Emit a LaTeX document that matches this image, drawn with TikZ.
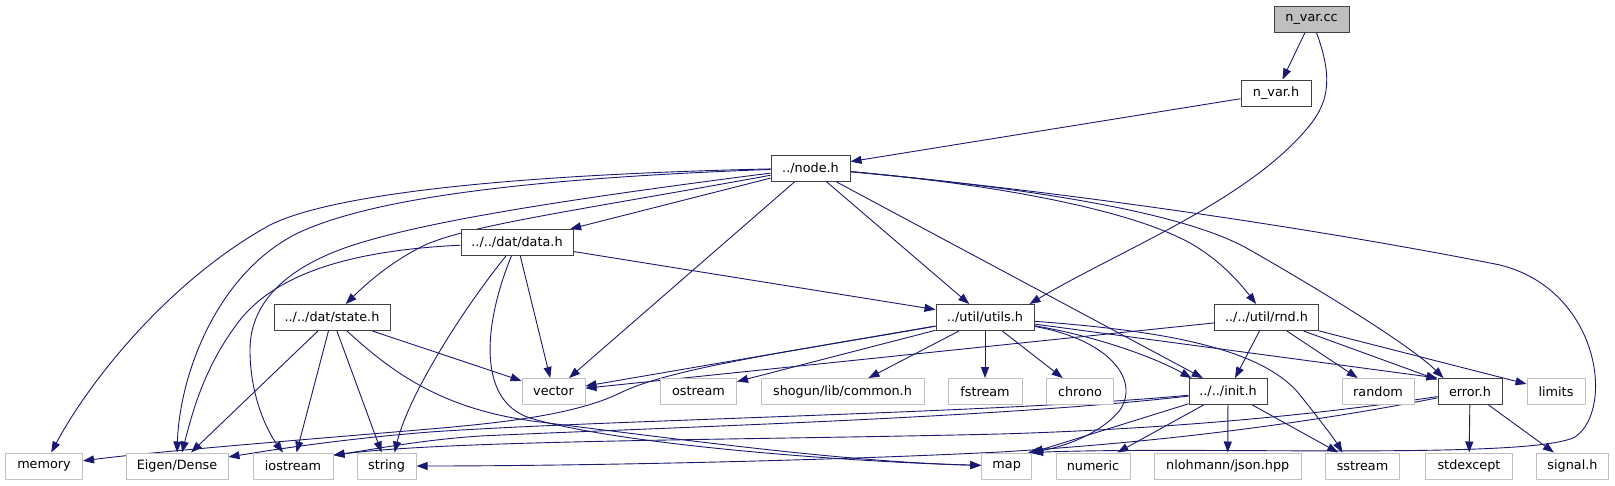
\documentclass[tikz,border=0pt]{standalone}
\usepackage{fontspec}
\setmainfont{DejaVu Sans}
\usetikzlibrary{arrows.meta,backgrounds}
\definecolor{edgeblue}{HTML}{191970}
\definecolor{sysgray}{HTML}{BFBFBF}
\tikzset{
  box/.style={rectangle, inner sep=0pt, minimum height=26pt, font=\fontsize{12.8}{15}\selectfont, fill=white},
  hdr/.style={box, draw=black!75, line width=1pt},
  sys/.style={box, draw=sysgray, line width=1pt},
  edge/.style={draw=edgeblue, line width=0.9pt, -{Triangle[length=11pt,width=8pt]}}
}
\begin{document}
\begin{tikzpicture}[x=1pt,y=-1pt]
\useasboundingbox (0,0) rectangle (1615,485);
% nodes
\node[hdr, fill=sysgray, minimum width=75pt] (nvarcc) at (1311.5,19) {n\_var.cc};
\node[hdr, minimum width=70pt] (nvarh) at (1276,93) {n\_var.h};
\node[hdr, minimum width=79pt] (nodeh) at (810.5,168) {../node.h};
\node[hdr, minimum width=112pt] (data) at (517,242.5) {../../dat/data.h};
\node[hdr, minimum width=116pt] (state) at (332,317.5) {../../dat/state.h};
\node[hdr, minimum width=98pt] (utils) at (985,317.5) {../util/utils.h};
\node[hdr, minimum width=104pt] (rnd) at (1266.5,317.5) {../../util/rnd.h};
% row 2
\node[sys, minimum width=63pt] (vector) at (553.5,391.5) {vector};
\node[sys, minimum width=76pt] (ostream) at (698.5,391.5) {ostream};
\node[sys, minimum width=163pt] (shogun) at (842.5,391.5) {shogun/lib/common.h};
\node[sys, minimum width=74pt] (fstream) at (985,391.5) {fstream};
\node[sys, minimum width=67pt] (chrono) at (1080,391.5) {chrono};
\node[hdr, minimum width=78pt] (init) at (1228,391.5) {../../init.h};
\node[sys, minimum width=72pt] (random) at (1378,391.5) {random};
\node[hdr, minimum width=64pt] (error) at (1470,391.5) {error.h};
\node[sys, minimum width=58pt] (limits) at (1556,391.5) {limits};
% row 3
\node[sys, minimum width=77pt] (memory) at (44,466) {memory};
\node[sys, minimum width=102pt] (Eigen) at (177,466) {Eigen/Dense};
\node[sys, minimum width=80pt] (iostream) at (293,466) {iostream};
\node[sys, minimum width=59pt] (string) at (386.5,466) {string};
\node[sys, minimum width=50pt] (map) at (1006.7,466) {map};
\node[sys, minimum width=74pt] (numeric) at (1093,466) {numeric};
\node[sys, minimum width=147pt] (json) at (1227.7,466) {nlohmann/json.hpp};
\node[sys, minimum width=74pt] (sstream) at (1362.5,466) {sstream};
\node[sys, minimum width=87pt] (stdexcept) at (1469,466) {stdexcept};
\node[sys, minimum width=72pt] (signal) at (1572.5,466) {signal.h};

\begin{scope}[on background layer]
% n_var.cc
\draw[edge] (nvarcc) -- (nvarh);
\draw[edge] (nvarcc) .. controls (1332,75) and (1330,100) .. (1310,125) .. controls (1250,200) and (1120,250) .. ([xshift=-5pt]utils.north east);
\draw[edge] (nvarh) -- (nodeh);
% node.h
\draw[edge] (nodeh) .. controls (500,175) and (330,195) .. (270,225) .. controls (170,280) and (90,380) .. (memory);
\draw[edge] (nodeh) .. controls (480,180) and (360,205) .. (300,232) .. controls (220,270) and (180,370) .. (Eigen.north);
\draw[edge] (nodeh) .. controls (560,200) and (440,220) .. (370,240) .. controls (290,262) and (250,300) .. (250,350) .. controls (250,400) and (270,435) .. (iostream);
\draw[edge] (nodeh) .. controls (580,210) and (470,225) .. (425,245) .. controls (390,262) and (365,285) .. (state);
\draw[edge] (nodeh) -- (data);
\draw[edge] (nodeh) -- (vector);
\draw[edge] (nodeh) -- (utils);
\draw[edge] (nodeh) -- (init);
\draw[edge] (nodeh) .. controls (1000,185) and (1130,210) .. (1190,243) .. controls (1220,260) and (1240,283) .. (rnd);
\draw[edge] (nodeh) .. controls (1050,190) and (1190,215) .. (1250,250) .. controls (1320,290) and (1410,345) .. ([xshift=6pt]error.north west);
\draw[edge] (nodeh) .. controls (1100,195) and (1350,235) .. (1500,265) .. controls (1600,290) and (1615,410) .. (1575,437) .. controls (1530,460) and (1200,446) .. (map.north east);
% data.h
\draw[edge] (data) .. controls (360,250) and (280,270) .. (240,320) .. controls (205,365) and (193,410) .. ([xshift=5pt]Eigen.north);
\draw[edge] (data) .. controls (470,300) and (410,390) .. ([xshift=8pt]string.north);
\draw[edge] (data) .. controls (485,320) and (475,400) .. (530,418) .. controls (620,445) and (850,462) .. (map);
\draw[edge] (data) -- (vector);
\draw[edge] (data) -- (utils);
% state.h
\draw[edge] (state) -- (Eigen);
\draw[edge] (state) -- (iostream);
\draw[edge] (state) -- (string);
\draw[edge] (state) .. controls (390,370) and (440,410) .. (540,422) .. controls (700,442) and (850,462) .. (map);
\draw[edge] (state) -- (vector);
% utils.h
\draw[edge] (utils) -- (vector);
\draw[edge] (utils) -- (ostream);
\draw[edge] (utils) -- (shogun);
\draw[edge] (utils) -- (fstream);
\draw[edge] (utils) -- (chrono);
\draw[edge] (utils) .. controls (1090,335) and (1150,355) .. ([xshift=3pt]init.north west);
\draw[edge] (utils) .. controls (1110,340) and (1140,380) .. (1120,410) .. controls (1100,435) and (1060,448) .. ([xshift=-4pt]map.north east);
\draw[edge] (utils) .. controls (1150,330) and (1260,345) .. (1300,395) .. controls (1320,420) and (1335,440) .. ([xshift=-20pt]sstream.north);
\draw[edge] (utils) -- (error.north west);
\draw[edge] (utils) .. controls (800,350) and (670,368) .. (620,393) .. controls (575,415) and (500,423) .. (430,429) .. controls (300,440) and (150,452) .. (memory);
% rnd.h
\draw[edge] (rnd) -- (vector);
\draw[edge] (rnd) -- (init);
\draw[edge] (rnd) -- (random);
\draw[edge] (rnd) -- (error);
\draw[edge] (rnd) -- (limits);
% init.h
\draw[edge] (init) .. controls (1000,413) and (600,420) .. (430,432) .. controls (330,440) and (260,452) .. (Eigen.10);
\draw[edge] (init) .. controls (1000,418) and (650,428) .. (480,436) .. controls (420,440) and (370,450) .. (iostream.15);
\draw[edge] (init) -- (map.north east);
\draw[edge] (init) -- (numeric);
\draw[edge] (init) -- (json);
\draw[edge] (init) -- (sstream);
% error.h
\draw[edge] (error) -- (stdexcept);
\draw[edge] (error) -- (signal);
\draw[edge] (error) .. controls (1350,415) and (1200,440) .. (1000,452) .. controls (800,462) and (550,466) .. (string);
\draw[edge] (error) .. controls (1350,410) and (1200,428) .. (1000,434) .. controls (750,440) and (450,440) .. (iostream.15);
\end{scope}
\end{tikzpicture}
\end{document}
